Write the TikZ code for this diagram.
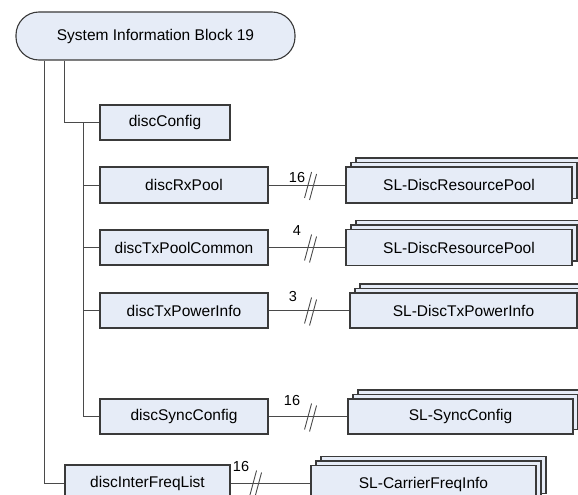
\documentclass[tikz,border=0pt]{standalone}
\usepackage{fontspec}
\setmainfont{Liberation Sans}
\usetikzlibrary{shadows,calc}
\definecolor{boxfill}{HTML}{E6ECF7}
\definecolor{boxline}{HTML}{3A3A3A}
\definecolor{wire}{HTML}{4A4A4A}
\begin{document}
\begin{tikzpicture}[x=1pt,y=-1pt,
  every node/.style={font=\fontsize{15.5}{18}\selectfont},
  field/.style={draw=boxline, fill=boxfill, line width=1.1pt, inner sep=0pt},
  stacked/.style={field, double copy shadow={shadow xshift=5pt, shadow yshift=4.5pt, fill=boxfill, draw=boxline, line width=1.1pt}},
  conn/.style={draw=wire, line width=0.9pt},
  cnt/.style={inner sep=0pt, font=\fontsize{14.5}{17}\selectfont}]
\clip (0,0) rectangle (578,495);
\fill[white] (0,0) rectangle (578,495);

% root element
\node[field, rounded corners=23pt, minimum width=279pt, minimum height=48pt] (sib) at (155.5,36) {System Information Block 19};

% fields of the block
\node[field, minimum width=130pt, minimum height=35pt] (dc) at (165,122.5) {discConfig};
\node[field, minimum width=168pt, minimum height=36pt] (rx) at (184,185) {discRxPool};
\node[field, minimum width=168pt, minimum height=35pt] (txc) at (184,247.5) {discTxPoolCommon};
\node[field, minimum width=168pt, minimum height=35pt] (txp) at (184,310.5) {discTxPowerInfo};
\node[field, minimum width=168pt, minimum height=35pt] (sync) at (184,416.5) {discSyncConfig};
\node[field, minimum width=165pt, minimum height=37pt] (ifl) at (147.5,483.5) {discInterFreqList};

% list element types
\node[stacked, minimum width=226pt, minimum height=36pt] (p1) at (459,185) {SL-DiscResourcePool};
\node[stacked, minimum width=226pt, minimum height=36pt] (p2) at (459,247.5) {SL-DiscResourcePool};
\node[stacked, minimum width=227pt, minimum height=35pt] (pw) at (463.5,310.5) {SL-DiscTxPowerInfo};
\node[stacked, minimum width=225pt, minimum height=35pt] (sc) at (460.5,416.5) {SL-SyncConfig};
\node[stacked, minimum width=225pt, minimum height=37pt] (cf) at (423.5,484) {SL-CarrierFreqInfo};

% tree connectors
\draw[conn] ([xshift=28.7pt]sib.south west) |- (ifl.west);
\draw[conn] ([xshift=49pt]sib.south west) |- (dc.west);
\coordinate (j) at (83,122.5);
\draw[conn] (j) |- (sync.west);
\draw[conn] (j |- rx.west) -- (rx.west);
\draw[conn] (j |- txc.west) -- (txc.west);
\draw[conn] (j |- txp.west) -- (txp.west);

% multiplicity connectors
\draw[conn] (rx.east) -- (p1.west);
\draw[conn] (txc.east) -- (p2.west);
\draw[conn] (txp.east) -- (pw.west);
\draw[conn] (sync.east) -- (sc.west);
\draw[conn] (ifl.east) -- (ifl.east -| cf.west);

\path (rx.east) ++(42,0) coordinate (s1);
\path (txc.east) ++(42,0) coordinate (s2);
\path (txp.east) ++(42,0) coordinate (s3);
\path (sync.east) ++(42,0) coordinate (s4);
\path (ifl.east) ++(25,0) coordinate (s5);
\foreach \s in {s1,s2,s3,s4,s5}{
  \draw[conn] ($(\s)+(-6,13)$) -- ($(\s)+(1,-13)$);
  \draw[conn] ($(\s)+(-1,15)$) -- ($(\s)+(6,-11)$);
}

\node[cnt] (n1) at (297,178) {16};
\node[cnt] (n2) at (297,231) {4};
\node[cnt] (n3) at (293,297) {3};
\node[cnt] (n4) at (292,401) {16};
\node[cnt] (n5) at (241,467) {16};
\end{tikzpicture}
\end{document}
